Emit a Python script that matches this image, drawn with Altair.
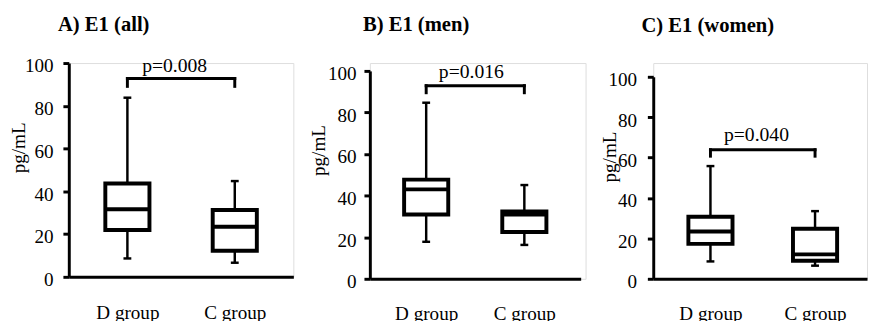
import altair as alt
import pandas as pd

groups = ["D group", "C group"]
group_pos = [1, 2]
y_ticks = [0, 20, 40, 60, 80, 100]

titles = ["A) E1 (all)", "B) E1 (men)", "C) E1 (women)"]

# A) all
a_min = [8.6, 6.6]
a_q1 = [21.9, 12.2]
a_med = [31.6, 23.4]
a_q3 = [43.7, 31.3]
a_max = [83.8, 44.8]
a_bracket = [92.8, 89.1]
a_p = ["p=0.008", 1.44, 98.8]

# B) men
b_min = [17.8, 16.3]
b_q1 = [30.9, 22.5]
b_med = [43.0, 30.9]
b_q3 = [47.7, 32.4]
b_max = [84.7, 45.1]
b_bracket = [92.9, 89.5]
b_p = ["p=0.016", 1.46, 99.6]

# C) women
c_min = [8.6, 6.5]
c_q1 = [17.3, 8.9]
c_med = [23.4, 12.1]
c_q3 = [30.7, 24.8]
c_max = [55.8, 33.5]
c_bracket = [63.9, 60.7]
c_p = ["p=0.040", 1.44, 71.2]

FONT = "Liberation Serif"
label_expr = "[" + ",".join("'" + g + "'" for g in groups) + "][datum.value - 1]"


def panel(title, mins, q1, med, q3, maxs, bracket, ptxt, width, height, xdom, xrange,
          yrange, t_dx, t_off, yt_x, yt_y, lab_pad):
    df = pd.DataFrame({"pos": group_pos, "grp": groups, "mn": mins, "q1": q1,
                       "med": med, "q3": q3, "mx": maxs})
    br_h = pd.DataFrame({"xa": [group_pos[0]], "xb": [group_pos[1]], "top": [bracket[0]]})
    br_v = pd.DataFrame({"pos": group_pos, "top": [bracket[0]] * 2, "end": [bracket[1]] * 2})
    ptext = pd.DataFrame({"px": [ptxt[1]], "py": [ptxt[2]], "t": [ptxt[0]]})

    xaxis = alt.Axis(values=group_pos, labelExpr=label_expr, title=None, ticks=False,
                     grid=False, domainWidth=3, domainColor="black", labelFontSize=19.5,
                     labelPadding=27, labelColor="black", labelFont=FONT,
                     labelBaseline="top")
    yaxis = alt.Axis(values=y_ticks, title="pg/mL", titleX=yt_x, titleY=yt_y,
                     titleAngle=-90, titleAlign="center", titleBaseline="top",
                     titleFontSize=19.5, titleFontWeight="normal", titleColor="black",
                     titleFont=FONT, grid=False, tickSize=6, tickWidth=3,
                     tickColor="black", domainWidth=3, domainColor="black",
                     labelFontSize=19.5, labelColor="black", labelFont=FONT,
                     labelPadding=lab_pad, labelOffset=3)
    xs = alt.Scale(domain=xdom, range=xrange, nice=False, zero=False)
    ys = alt.Scale(domain=[0, 100], range=yrange, nice=False)

    def X(f):
        return alt.X(f, type="quantitative", scale=xs, axis=xaxis)

    def Y(f):
        return alt.Y(f, type="quantitative", scale=ys, axis=yaxis)

    base = alt.Chart(df)
    whisk_hi = base.mark_rule(color="black", strokeWidth=2.5).encode(
        x=X("pos"), y=Y("q3"), y2="mx")
    whisk_lo = base.mark_rule(color="black", strokeWidth=2.5).encode(
        x=X("pos"), y=Y("mn"), y2="q1")
    cap_hi = base.mark_tick(color="black", size=8, thickness=2.5, orient="horizontal",
                            opacity=1).encode(x=X("pos"), y=Y("mx"))
    cap_lo = base.mark_tick(color="black", size=8, thickness=2.5, orient="horizontal",
                            opacity=1).encode(x=X("pos"), y=Y("mn"))
    box = base.mark_bar(size=45, fill="white", stroke="black", strokeWidth=4,
                        orient="vertical", opacity=1).encode(
        x=X("pos"), y=Y("q1"), y2="q3")
    median = base.mark_tick(color="black", size=45, thickness=4, orient="horizontal",
                            opacity=1).encode(x=X("pos"), y=Y("med"))
    bh = alt.Chart(br_h).mark_rule(color="black", strokeWidth=3, strokeCap="square").encode(
        x=X("xa"), x2="xb", y=Y("top"))
    bv = alt.Chart(br_v).mark_rule(color="black", strokeWidth=3, strokeCap="square").encode(
        x=X("pos"), y=Y("end"), y2="top")
    pt = alt.Chart(ptext).mark_text(font=FONT, fontSize=20, color="black",
                                    baseline="middle", align="center").encode(
        x=X("px"), y=Y("py"), text="t:N")

    return alt.layer(whisk_hi, whisk_lo, cap_hi, cap_lo, box, median, bh, bv, pt).properties(
        width=width, height=height,
        title=alt.TitleParams(title, anchor="start", frame="group", dx=t_dx,
                              offset=t_off, fontSize=21, fontWeight="bold",
                              font=FONT, color="black"))


pa = panel(titles[0], a_min, a_q1, a_med, a_q3, a_max, a_bracket, a_p,
           229, 218, [0.5, 2.5], [0, 229], [218, 0], -11, 21, -60, 86, 10)
pb = panel(titles[1], b_min, b_q1, b_med, b_q3, b_max, b_bracket, b_p,
           220, 220, [0.476, 2.524], [0, 215], [220, 8], -7, 28, -61.7, 88.7, 8)
pc = panel(titles[2], c_min, c_q1, c_med, c_q3, c_max, c_bracket, c_p,
           218, 220, [0.5, 2.45], [0, 218], [220, 14], -12, 28, -53.3, 95.3, 11)

chart = alt.hconcat(pa, pb, pc, spacing=13).properties(
    padding={"left": 0, "top": 2, "right": 0, "bottom": 0}
).configure_view(stroke=None).configure(font=FONT)

chart.save("out.html", embed_options={"renderer": "svg", "actions": False})
